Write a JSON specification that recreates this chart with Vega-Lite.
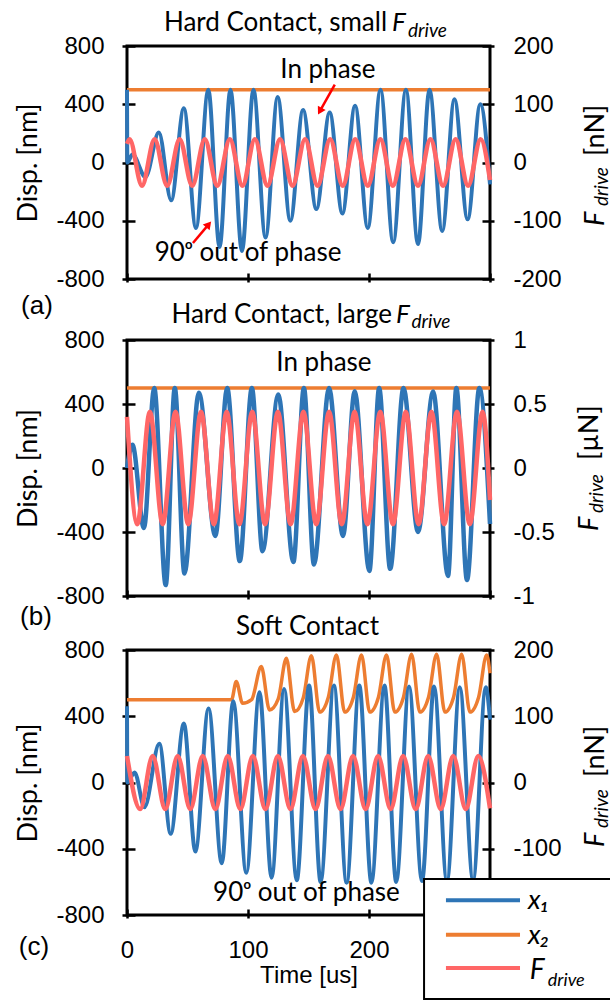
{
"$schema": "https://vega.github.io/schema/vega-lite/v6.json",
"background": "white",
"padding": {"left": 13, "top": 8, "right": 0, "bottom": 0},
"config": {
  "view": {"stroke": "black", "strokeWidth": 3},
  "axis": {"grid": false, "domain": false, "tickColor": "black", "tickWidth": 2.5, "labelColor": "black", "titleColor": "black", "labelFont": "Liberation Sans", "labelFontSize": 24, "titleFontWeight": "normal", "labelOverlap": false, "labelFlush": false},
  "axisLeft": {"tickSize": 13, "offset": -8, "labelPadding": 18, "titleFont": "Lato", "titleFontSize": 27, "titlePadding": 13},
  "axisRight": {"tickSize": 12, "offset": -8, "labelPadding": 19},
  "axisBottom": {"tickSize": 9, "offset": -6, "labelPadding": 20, "titleFont": "Liberation Sans", "titleFontSize": 24, "titlePadding": 1},
  "text": {"font": "Lato", "color": "black"}
},
"datasets": {
  "a_x1": [{"t":0,"v":500},{"t":0.3,"v":0},{"t":4.5,"v":55},{"t":15.3,"v":-100},{"t":26.3,"v":206},{"t":36.5,"v":-260},{"t":47.0,"v":372},{"t":57.0,"v":-450},{"t":67.2,"v":500},{"t":76.5,"v":-580},{"t":85.5,"v":500},{"t":95.0,"v":-608},{"t":104.5,"v":500},{"t":114.5,"v":-515},{"t":124.5,"v":450},{"t":135.0,"v":-400},{"t":145.5,"v":360},{"t":156.5,"v":-320},{"t":167.5,"v":343},{"t":178.0,"v":-350},{"t":188.5,"v":389},{"t":199.0,"v":-450},{"t":209.5,"v":500},{"t":220.0,"v":-548},{"t":230.5,"v":500},{"t":240.5,"v":-560},{"t":250.0,"v":500},{"t":260.5,"v":-470},{"t":270.6,"v":434},{"t":281.5,"v":-390},{"t":292.0,"v":400},{"t":300,"v":-150}],
  "a_x2": [{"t":0,"v":500},{"t":300,"v":500}],
  "a_F": [{"t":0,"F":32},{"t":2.1,"F":40},{"t":12.4,"F":-40},{"t":22.8,"F":40},{"t":33.2,"F":-40},{"t":43.5,"F":40},{"t":53.9,"F":-40},{"t":64.3,"F":40},{"t":74.6,"F":-40},{"t":85.0,"F":40},{"t":95.4,"F":-40},{"t":105.7,"F":40},{"t":116.1,"F":-40},{"t":126.5,"F":40},{"t":136.8,"F":-40},{"t":147.2,"F":40},{"t":157.5,"F":-40},{"t":167.9,"F":40},{"t":178.3,"F":-40},{"t":188.6,"F":40},{"t":199.0,"F":-40},{"t":209.4,"F":40},{"t":219.7,"F":-40},{"t":230.1,"F":40},{"t":240.5,"F":-40},{"t":250.8,"F":40},{"t":261.2,"F":-40},{"t":271.6,"F":40},{"t":281.9,"F":-40},{"t":292.3,"F":40},{"t":300,"F":-30}],
  "b_x1": [{"t":0,"v":0},{"t":4.5,"v":145},{"t":14.0,"v":-375},{"t":22.5,"v":500},{"t":32.0,"v":-732},{"t":39.5,"v":500},{"t":47.5,"v":-660},{"t":59.4,"v":470},{"t":73.0,"v":-425},{"t":82.8,"v":500},{"t":93.2,"v":-582},{"t":103.2,"v":500},{"t":112.0,"v":-520},{"t":125.0,"v":460},{"t":137.5,"v":-588},{"t":146.2,"v":500},{"t":154.5,"v":-603},{"t":167.0,"v":500},{"t":178.5,"v":-425},{"t":188.2,"v":480},{"t":200.3,"v":-644},{"t":208.4,"v":500},{"t":217.5,"v":-630},{"t":228.5,"v":500},{"t":240.5,"v":-400},{"t":253.0,"v":478},{"t":265.3,"v":-675},{"t":272.2,"v":500},{"t":281.0,"v":-700},{"t":291.2,"v":500},{"t":300,"v":-350}],
  "b_x2": [{"t":0,"v":500},{"t":300,"v":500}],
  "b_F": [{"t":0,"F":0.40},{"t":8.5,"F":-0.44},{"t":18.9,"F":0.44},{"t":29.5,"F":-0.44},{"t":40.1,"F":0.44},{"t":50.6,"F":-0.44},{"t":61.2,"F":0.44},{"t":71.8,"F":-0.44},{"t":82.4,"F":0.44},{"t":92.9,"F":-0.44},{"t":103.5,"F":0.44},{"t":114.1,"F":-0.44},{"t":124.7,"F":0.44},{"t":135.2,"F":-0.44},{"t":145.8,"F":0.44},{"t":156.4,"F":-0.44},{"t":167.0,"F":0.44},{"t":177.5,"F":-0.44},{"t":188.1,"F":0.44},{"t":198.7,"F":-0.44},{"t":209.3,"F":0.44},{"t":219.8,"F":-0.44},{"t":230.4,"F":0.44},{"t":241.0,"F":-0.44},{"t":251.6,"F":0.44},{"t":262.1,"F":-0.44},{"t":272.7,"F":0.44},{"t":283.3,"F":-0.44},{"t":293.9,"F":0.44},{"t":300,"F":-0.25}],
  "c_x1": [{"t":0,"v":460},{"t":0.3,"v":0},{"t":6.3,"v":61},{"t":14.4,"v":-150},{"t":26.7,"v":234},{"t":36.1,"v":-310},{"t":47.0,"v":356},{"t":56.5,"v":-417},{"t":67.4,"v":447},{"t":78.3,"v":-488},{"t":87.8,"v":490},{"t":98.6,"v":-545},{"t":109.5,"v":545},{"t":119.5,"v":-575},{"t":129.9,"v":565},{"t":140.3,"v":-590},{"t":150.5,"v":585},{"t":160.0,"v":-600},{"t":171.0,"v":585},{"t":181.5,"v":-605},{"t":192.0,"v":585},{"t":202.0,"v":-605},{"t":212.8,"v":585},{"t":222.5,"v":-600},{"t":233.1,"v":580},{"t":243.8,"v":-595},{"t":253.8,"v":580},{"t":264.4,"v":-595},{"t":275.0,"v":575},{"t":286.0,"v":-590},{"t":296.5,"v":575},{"t":300,"v":380}],
  "c_x2": [{"t":0,"v":500},{"t":86.4,"v":500},{"t":90.3,"v":610},{"t":95.5,"v":478},{"t":103,"v":500},{"t":111,"v":700},{"t":117.8,"v":438},{"t":125,"v":505},{"t":131.7,"v":750},{"t":138.5,"v":428},{"t":145.7,"v":512},{"t":152.4,"v":765},{"t":159.2,"v":425},{"t":166.4,"v":515},{"t":173.1,"v":770},{"t":179.9,"v":425},{"t":187.1,"v":515},{"t":193.8,"v":770},{"t":200.6,"v":425},{"t":207.8,"v":515},{"t":214.5,"v":770},{"t":221.3,"v":425},{"t":228.5,"v":515},{"t":235.2,"v":775},{"t":242,"v":425},{"t":249.2,"v":515},{"t":255.9,"v":775},{"t":262.7,"v":425},{"t":269.9,"v":515},{"t":276.6,"v":775},{"t":283.4,"v":425},{"t":290.6,"v":515},{"t":297.3,"v":770},{"t":300,"v":660}],
  "c_F": [{"t":0,"F":40},{"t":10.9,"F":-40},{"t":21.2,"F":40},{"t":31.6,"F":-40},{"t":41.9,"F":40},{"t":52.3,"F":-40},{"t":62.6,"F":40},{"t":73.0,"F":-40},{"t":83.3,"F":40},{"t":93.7,"F":-40},{"t":104.0,"F":40},{"t":114.4,"F":-40},{"t":124.7,"F":40},{"t":135.1,"F":-40},{"t":145.4,"F":40},{"t":155.8,"F":-40},{"t":166.1,"F":40},{"t":176.5,"F":-40},{"t":186.8,"F":40},{"t":197.2,"F":-40},{"t":207.5,"F":40},{"t":217.9,"F":-40},{"t":228.2,"F":40},{"t":238.6,"F":-40},{"t":248.9,"F":40},{"t":259.3,"F":-40},{"t":269.6,"F":40},{"t":280.0,"F":-40},{"t":290.3,"F":40},{"t":300,"F":-39}]
},
"bounds": "flush",
"spacing": 61,
"vconcat": [
{
 "width": 363, "height": 233,
 "layer": [
  {
   "data": {"values": [{}]},
   "layer": [
    {"data": {"name": "a_x2"}, "mark": {"type": "line", "color": "#ED7D31", "strokeWidth": 3.5},
     "encoding": {
      "x": {"field": "t", "type": "quantitative", "scale": {"domain": [0, 300]}, "axis": {"values": [0, 100, 200, 300], "title": null, "labels": false}},
      "y": {"field": "v", "type": "quantitative", "scale": {"domain": [-800, 800]}, "axis": {"values": [-800, -400, 0, 400, 800], "title": "Disp. [nm]", "labelExpr": "toString(datum.value)"}}}},
    {"data": {"name": "a_x1"}, "mark": {"type": "line", "color": "#2E75B6", "strokeWidth": 4, "interpolate": "monotone"},
     "encoding": {
      "x": {"field": "t", "type": "quantitative", "scale": {"domain": [0, 300]}},
      "y": {"field": "v", "type": "quantitative", "scale": {"domain": [-800, 800]}}}},
    {"mark": {"type": "text", "text": "Hard Contact, small", "fontSize": 26, "align": "right", "baseline": "alphabetic"}, "encoding": {"x": {"datum": 214.9}, "y": {"datum": 899.6}}},
    {"mark": {"type": "text", "text": "F", "fontSize": 26, "fontStyle": "italic", "align": "left", "baseline": "alphabetic"}, "encoding": {"x": {"datum": 219.0}, "y": {"datum": 899.6}}},
    {"mark": {"type": "text", "text": "drive", "fontSize": 19, "fontStyle": "italic", "align": "left", "baseline": "alphabetic"}, "encoding": {"x": {"datum": 232.2}, "y": {"datum": 865.2}}},
    {"mark": {"type": "text", "text": "In phase", "fontSize": 26, "align": "center", "baseline": "alphabetic"}, "encoding": {"x": {"datum": 166.1}, "y": {"datum": 580.3}}},
    {"mark": {"type": "text", "text": "90ᵒ out of phase", "fontSize": 26, "align": "center", "baseline": "alphabetic"}, "encoding": {"x": {"datum": 100}, "y": {"datum": -679.8}}},
    {"mark": {"type": "rule", "color": "#FF0000", "strokeWidth": 2.5}, "encoding": {"x": {"datum": 171.7}, "y": {"datum": 534.3}, "x2": {"datum": 159.4}, "y2": {"datum": 352.3}}},
    {"mark": {"type": "point", "shape": "triangle-up", "filled": true, "color": "#FF0000", "opacity": 1, "size": 80, "angle": 209}, "encoding": {"x": {"datum": 159.4}, "y": {"datum": 352.3}}},
    {"mark": {"type": "rule", "color": "#FF0000", "strokeWidth": 2.5}, "encoding": {"x": {"datum": 54.5}, "y": {"datum": -552.8}, "x2": {"datum": 67.5}, "y2": {"datum": -425.1}}},
    {"mark": {"type": "point", "shape": "triangle-up", "filled": true, "color": "#FF0000", "opacity": 1, "size": 80, "angle": 40}, "encoding": {"x": {"datum": 67.5}, "y": {"datum": -425.1}}},
    {"mark": {"type": "text", "text": "F", "fontSize": 27, "fontStyle": "italic", "angle": 270, "align": "left", "baseline": "alphabetic"}, "encoding": {"x": {"datum": 394.2}, "y": {"datum": -436}}},
    {"mark": {"type": "text", "text": "drive", "fontSize": 19, "fontStyle": "italic", "angle": 270, "align": "left", "baseline": "alphabetic"}, "encoding": {"x": {"datum": 397.5}, "y": {"datum": -298.7}}},
    {"mark": {"type": "text", "text": "[nN]", "fontSize": 27, "angle": 270, "align": "left", "baseline": "alphabetic"}, "encoding": {"x": {"datum": 394.2}, "y": {"datum": 45}}}
   ]
  },
  {"data": {"name": "a_F"}, "mark": {"type": "line", "color": "#FF6666", "strokeWidth": 4.5, "interpolate": "monotone"},
   "encoding": {
    "x": {"field": "t", "type": "quantitative", "scale": {"domain": [0, 300]}},
    "y": {"field": "F", "type": "quantitative", "scale": {"domain": [-200, 200]}, "axis": {"orient": "right", "values": [-200, -100, 0, 100, 200], "title": null, "labelExpr": "toString(datum.value)"}}}}
 ],
 "resolve": {"scale": {"y": "independent"}}
},
{
 "bounds": "flush",
 "spacing": 54,
 "vconcat": [
 {
  "width": 363, "height": 256,
  "layer": [
   {
    "data": {"values": [{}]},
    "layer": [
     {"data": {"name": "b_x2"}, "mark": {"type": "line", "color": "#ED7D31", "strokeWidth": 3.5},
      "encoding": {
       "x": {"field": "t", "type": "quantitative", "scale": {"domain": [0, 300]}, "axis": {"values": [0, 100, 200, 300], "title": null, "labels": false}},
       "y": {"field": "v", "type": "quantitative", "scale": {"domain": [-800, 800]}, "axis": {"values": [-800, -400, 0, 400, 800], "title": "Disp. [nm]", "labelExpr": "toString(datum.value)"}}}},
     {"data": {"name": "b_x1"}, "mark": {"type": "line", "color": "#2E75B6", "strokeWidth": 4.5, "interpolate": "monotone"},
      "encoding": {
       "x": {"field": "t", "type": "quantitative", "scale": {"domain": [0, 300]}},
       "y": {"field": "v", "type": "quantitative", "scale": {"domain": [-800, 800]}}}},
     {"mark": {"type": "text", "text": "Hard Contact, large", "fontSize": 26, "align": "right", "baseline": "alphabetic"}, "encoding": {"x": {"datum": 219.0}, "y": {"datum": 906.3}}},
     {"mark": {"type": "text", "text": "F", "fontSize": 26, "fontStyle": "italic", "align": "left", "baseline": "alphabetic"}, "encoding": {"x": {"datum": 222.3}, "y": {"datum": 906.3}}},
     {"mark": {"type": "text", "text": "drive", "fontSize": 19, "fontStyle": "italic", "align": "left", "baseline": "alphabetic"}, "encoding": {"x": {"datum": 235.1}, "y": {"datum": 875}}},
     {"mark": {"type": "text", "text": "(a)", "font": "Liberation Sans", "fontSize": 26, "align": "center", "baseline": "alphabetic"}, "encoding": {"x": {"datum": -74.4}, "y": {"datum": 960}}},
     {"mark": {"type": "text", "text": "In phase", "fontSize": 26, "align": "center", "baseline": "alphabetic"}, "encoding": {"x": {"datum": 162.8}, "y": {"datum": 606.3}}},
     {"mark": {"type": "text", "text": "F", "fontSize": 27, "fontStyle": "italic", "angle": 270, "align": "left", "baseline": "alphabetic"}, "encoding": {"x": {"datum": 389.3}, "y": {"datum": -393.8}}},
     {"mark": {"type": "text", "text": "drive", "fontSize": 19, "fontStyle": "italic", "angle": 270, "align": "left", "baseline": "alphabetic"}, "encoding": {"x": {"datum": 393.4}, "y": {"datum": -281.3}}},
     {"mark": {"type": "text", "text": "[µN]", "fontSize": 27, "angle": 270, "align": "left", "baseline": "alphabetic"}, "encoding": {"x": {"datum": 389.3}, "y": {"datum": 50}}}
    ]
   },
   {"data": {"name": "b_F"}, "mark": {"type": "line", "color": "#FF6666", "strokeWidth": 4.5, "interpolate": "monotone"},
    "encoding": {
     "x": {"field": "t", "type": "quantitative", "scale": {"domain": [0, 300]}},
     "y": {"field": "F", "type": "quantitative", "scale": {"domain": [-1, 1]}, "axis": {"orient": "right", "values": [-1, -0.5, 0, 0.5, 1], "title": null, "labelExpr": "toString(datum.value)"}}}}
  ],
  "resolve": {"scale": {"y": "independent"}}
 },
 {
  "width": 363, "height": 265,
  "layer": [
   {
    "data": {"values": [{}]},
    "layer": [
     {"data": {"name": "c_x2"}, "mark": {"type": "line", "color": "#ED7D31", "strokeWidth": 3.5, "interpolate": "monotone"},
      "encoding": {
       "x": {"field": "t", "type": "quantitative", "scale": {"domain": [0, 300]}, "axis": {"values": [0, 100, 200], "title": "Time [us]", "labelExpr": "toString(datum.value)"}},
       "y": {"field": "v", "type": "quantitative", "scale": {"domain": [-800, 800]}, "axis": {"values": [-800, -400, 0, 400, 800], "title": "Disp. [nm]", "labelExpr": "toString(datum.value)"}}}},
     {"data": {"name": "c_x1"}, "mark": {"type": "line", "color": "#2E75B6", "strokeWidth": 4, "interpolate": "monotone"},
      "encoding": {
       "x": {"field": "t", "type": "quantitative", "scale": {"domain": [0, 300]}},
       "y": {"field": "v", "type": "quantitative", "scale": {"domain": [-800, 800]}}}},
     {"mark": {"type": "text", "text": "Soft Contact", "fontSize": 26, "align": "center", "baseline": "alphabetic"}, "encoding": {"x": {"datum": 149.2}, "y": {"datum": 892.4}}},
     {"mark": {"type": "text", "text": "(b)", "font": "Liberation Sans", "fontSize": 26, "align": "center", "baseline": "alphabetic"}, "encoding": {"x": {"datum": -75.2}, "y": {"datum": 951}}},
     {"mark": {"type": "text", "text": "(c)", "font": "Liberation Sans", "fontSize": 26, "align": "center", "baseline": "alphabetic"}, "encoding": {"x": {"datum": -76.9}, "y": {"datum": -1041.6}}},
     {"mark": {"type": "text", "text": "90ᵒ out of phase", "fontSize": 26, "align": "center", "baseline": "alphabetic"}, "encoding": {"x": {"datum": 148.3}, "y": {"datum": -715.5}}},
     {"mark": {"type": "text", "text": "F", "fontSize": 27, "fontStyle": "italic", "angle": 270, "align": "left", "baseline": "alphabetic"}, "encoding": {"x": {"datum": 394.2}, "y": {"datum": -389.5}}},
     {"mark": {"type": "text", "text": "drive", "fontSize": 19, "fontStyle": "italic", "angle": 270, "align": "left", "baseline": "alphabetic"}, "encoding": {"x": {"datum": 397.5}, "y": {"datum": -274.7}}},
     {"mark": {"type": "text", "text": "[nN]", "fontSize": 27, "angle": 270, "align": "left", "baseline": "alphabetic"}, "encoding": {"x": {"datum": 394.2}, "y": {"datum": 33}}},
     {"mark": {"type": "rect", "fill": "white", "stroke": "black", "strokeWidth": 2}, "encoding": {"x": {"datum": 245.5}, "x2": {"datum": 400.8}, "y": {"datum": -582.7}, "y2": {"datum": -1307.2}}},
     {"mark": {"type": "rule", "color": "#2E75B6", "strokeWidth": 4}, "encoding": {"x": {"datum": 263.6}, "x2": {"datum": 324.8}, "y": {"datum": -711.3}}},
     {"mark": {"type": "rule", "color": "#ED7D31", "strokeWidth": 4}, "encoding": {"x": {"datum": 263.6}, "x2": {"datum": 324.8}, "y": {"datum": -919}}},
     {"mark": {"type": "rule", "color": "#FF6666", "strokeWidth": 4}, "encoding": {"x": {"datum": 263.6}, "x2": {"datum": 324.8}, "y": {"datum": -1120}}},
     {"mark": {"type": "text", "text": "x₁", "fontSize": 27, "fontStyle": "italic", "align": "left", "baseline": "alphabetic"}, "encoding": {"x": {"datum": 331.4}, "y": {"datum": -766}}},
     {"mark": {"type": "text", "text": "x₂", "fontSize": 27, "fontStyle": "italic", "align": "left", "baseline": "alphabetic"}, "encoding": {"x": {"datum": 331.4}, "y": {"datum": -975}}},
     {"mark": {"type": "text", "text": "F", "fontSize": 28, "fontStyle": "italic", "align": "left", "baseline": "alphabetic"}, "encoding": {"x": {"datum": 332.8}, "y": {"datum": -1186.5}}},
     {"mark": {"type": "text", "text": "drive", "fontSize": 18, "fontStyle": "italic", "align": "left", "baseline": "alphabetic"}, "encoding": {"x": {"datum": 347.8}, "y": {"datum": -1226.9}}}
    ]
   },
   {"data": {"name": "c_F"}, "mark": {"type": "line", "color": "#FF6666", "strokeWidth": 4.5, "interpolate": "monotone"},
    "encoding": {
     "x": {"field": "t", "type": "quantitative", "scale": {"domain": [0, 300]}},
     "y": {"field": "F", "type": "quantitative", "scale": {"domain": [-200, 200]}, "axis": {"orient": "right", "values": [-100, 0, 100, 200], "title": null, "labelExpr": "toString(datum.value)"}}}}
  ],
  "resolve": {"scale": {"y": "independent"}}
 }
 ]
}
]
}
